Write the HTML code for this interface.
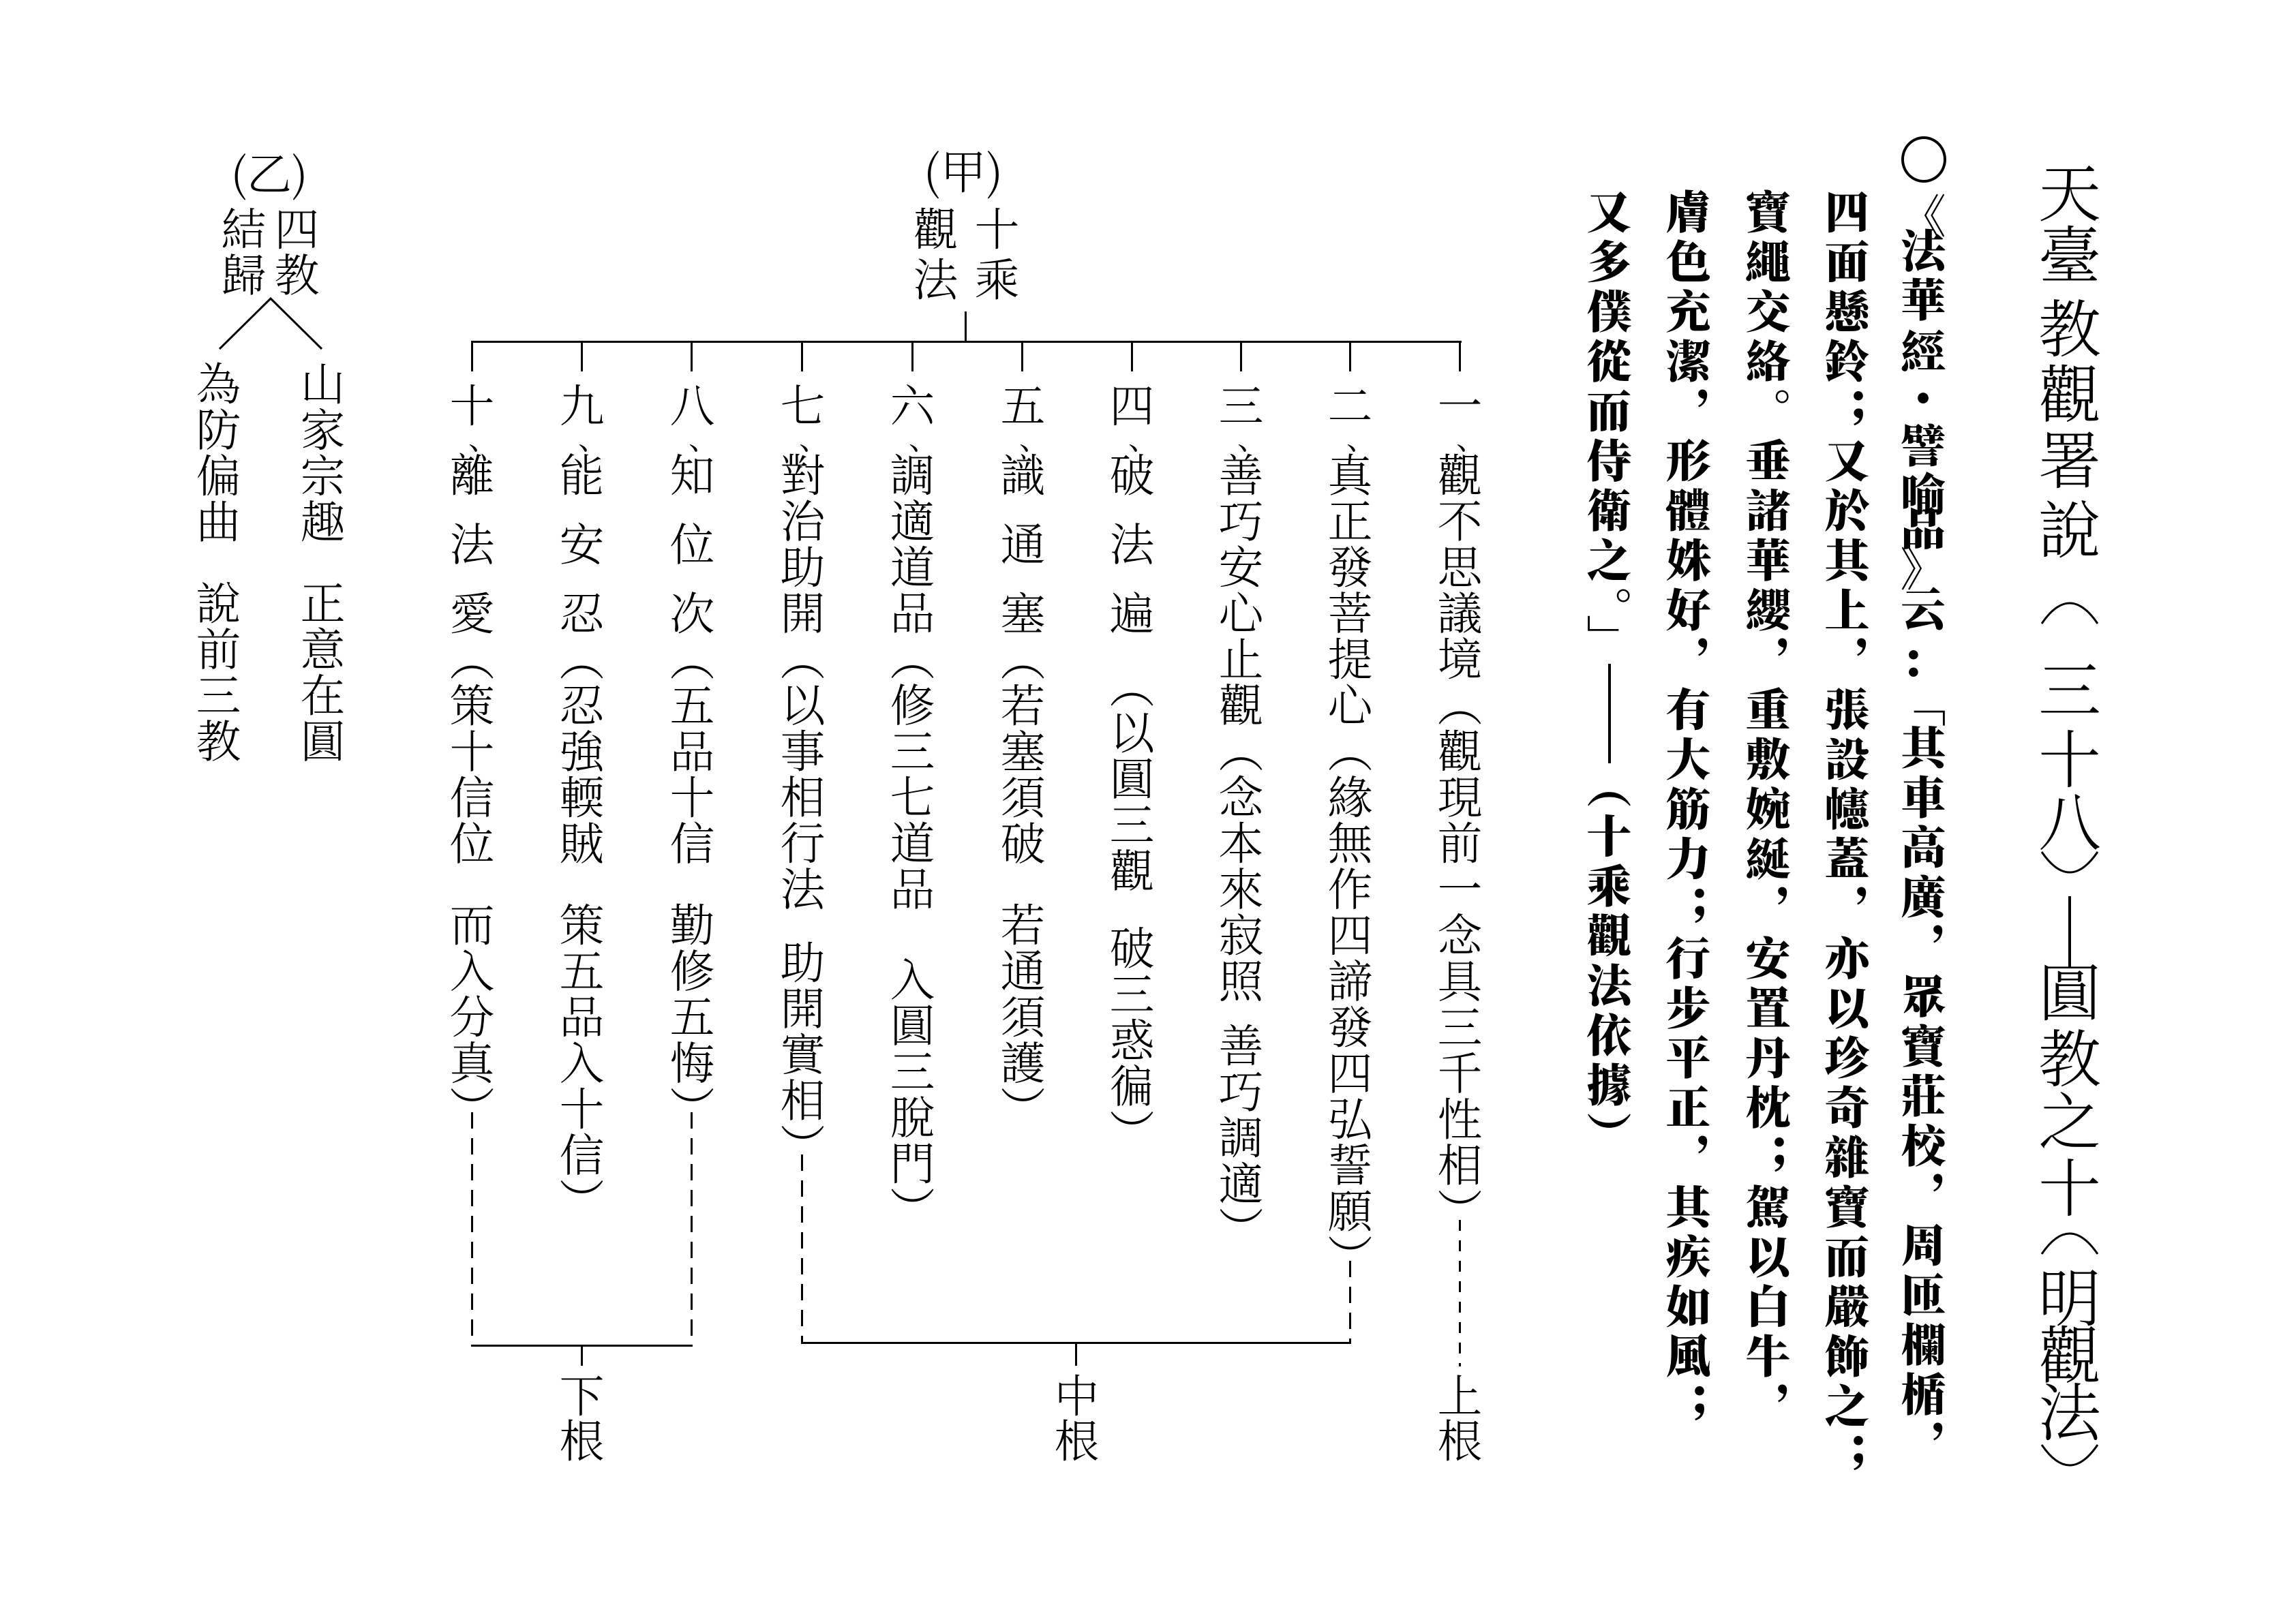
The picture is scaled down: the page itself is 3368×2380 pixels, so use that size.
<!DOCTYPE html>
<html><head><meta charset="utf-8">
<style>
html,body{margin:0;padding:0;background:#fff;}
body{width:3368px;height:2380px;position:relative;overflow:hidden;}
.v{position:absolute;writing-mode:vertical-rl;text-orientation:mixed;white-space:nowrap;color:#000;}
.t{font-family:"Noto Serif CJK SC","Noto Sans CJK TC",serif;font-weight:300;font-size:66px;line-height:68px;width:68px;letter-spacing:1.5px;}
.q{font-family:"Noto Serif CJK SC","Noto Sans CJK TC",serif;font-weight:900;font-size:66px;line-height:70px;width:70px;letter-spacing:7px;}
.s{display:inline-block;width:1px;}
.c{position:absolute;font-family:"Noto Serif CJK SC","Noto Sans CJK TC",serif;font-weight:300;text-align:center;line-height:1;}
.ti{font-size:92px;width:100px;height:92px;}
.qc{font-family:"Noto Serif CJK SC",serif;font-weight:900;font-size:66px;width:70px;height:66px;}
.ln{position:absolute;background:#000;}
.dv{position:absolute;width:3px;background:repeating-linear-gradient(to bottom,#000 0 24px,transparent 24px 38px);}
.dash{display:inline-block;width:68px;background:linear-gradient(to right,transparent 33px,#000 33px,#000 37px,transparent 37px);}
.dm{position:absolute;font-family:"Noto Serif CJK SC",serif;font-size:44px;line-height:1;}
</style></head><body>

<!-- Title -->
<div class="c ti" style="left:2986px;top:232px">天</div>
<div class="c ti" style="left:2986px;top:323px">臺</div>
<div class="c ti" style="left:2986px;top:431px">教</div>
<div class="c ti" style="left:2986px;top:527px">觀</div>
<div class="c ti" style="left:2986px;top:624px">署</div>
<div class="c ti" style="left:2986px;top:726px">說</div>
<div class="c ti" style="left:2986px;top:961px">三</div>
<div class="c ti" style="left:2986px;top:1063px">十</div>
<div class="c ti" style="left:2986px;top:1155px">八</div>
<div class="ln" style="left:3034px;top:1315px;width:4px;height:105px"></div>
<div class="c ti" style="left:2986px;top:1405px">圓</div>
<div class="c ti" style="left:2986px;top:1502px">教</div>
<div class="c ti" style="left:2986px;top:1594px">之</div>
<div class="c ti" style="left:2986px;top:1692px">十</div>
<div class="c ti" style="left:2986px;top:1853px">明</div>
<div class="c ti" style="left:2986px;top:1937px">觀</div>
<div class="c ti" style="left:2986px;top:2021px">法</div>
<svg style="position:absolute;left:2950px;top:0" width="170" height="2380">
<g fill="none" stroke="#000" stroke-width="3">
<path d="M45,915 Q86,855 127,915"/>
<path d="M45,1250 Q86,1310 127,1250"/>
<path d="M45,1840 Q86,1780 127,1840"/>
<path d="M45,2120 Q86,2180 127,2120"/>
</g></svg>

<!-- Quote -->
<div style="position:absolute;left:2789px;top:200px;width:58px;height:60px;border:4px solid #000;border-radius:50%"></div>
<div class="c qc" style="left:2786px;top:280px">《</div>
<div class="c qc" style="left:2786px;top:331px">法</div>
<div class="c qc" style="left:2786px;top:403px">華</div>
<div class="c qc" style="left:2786px;top:479px">經</div>
<div class="c qc" style="left:2786px;top:548px">・</div>
<div class="c qc" style="left:2786px;top:617px">譬</div>
<div class="c qc" style="left:2786px;top:688px">喻</div>
<div class="c qc" style="left:2786px;top:739px">品</div>
<div class="c qc" style="left:2786px;top:798px">》</div>
<div class="c qc" style="left:2786px;top:857px">云</div>
<div class="c qc" style="left:2786px;top:933px">：</div>
<div class="v q" style="left:2786px;top:1000px">「</div>
<div class="v q" style="left:2786px;top:1063px">其車高廣，眾寶莊校，周匝欄楯，</div>
<div class="v q" style="left:2674px;top:277px">四面懸鈴；又於其上，張設幰蓋，亦以珍奇雜寶而嚴飾之；</div>
<div class="v q" style="left:2558px;top:277px">寶繩交絡。垂諸華纓，重敷婉綖，安置丹枕；駕以白牛，</div>
<div class="v q" style="left:2441px;top:277px">膚色充潔，形體姝好，有大筋力；行步平正，其疾如風；</div>
<div class="v q" style="left:2325px;top:277px">又多僕從而侍衛之。」<span class="dash" style="height:146px"></span>（十乘觀法依據）</div>

<!-- Tree (甲) -->
<div class="c" style="left:1313px;top:215px;width:200px;font-size:68px">(甲)</div>
<div class="v t" style="left:1428px;top:302px;letter-spacing:8px">十乘</div>
<div class="v t" style="left:1338px;top:302px;letter-spacing:8px">觀法</div>
<div class="ln" style="left:1415px;top:457px;width:3px;height:45px"></div>
<div class="ln" style="left:691px;top:500px;width:1453px;height:3px"></div>
<div class="ln" style="left:691px;top:500px;width:3px;height:45px"></div>
<div class="ln" style="left:852px;top:500px;width:3px;height:45px"></div>
<div class="ln" style="left:1013px;top:500px;width:3px;height:45px"></div>
<div class="ln" style="left:1175px;top:500px;width:3px;height:45px"></div>
<div class="ln" style="left:1337px;top:500px;width:3px;height:45px"></div>
<div class="ln" style="left:1498px;top:500px;width:3px;height:45px"></div>
<div class="ln" style="left:1659px;top:500px;width:3px;height:45px"></div>
<div class="ln" style="left:1819px;top:500px;width:3px;height:45px"></div>
<div class="ln" style="left:1979px;top:500px;width:3px;height:45px"></div>
<div class="ln" style="left:2140px;top:500px;width:3px;height:45px"></div>

<!-- numbers -->
<div class="v t" style="left:2107px;top:561px">一</div>
<div class="v t" style="left:1946px;top:561px">二</div>
<div class="v t" style="left:1786px;top:561px">三</div>
<div class="v t" style="left:1626px;top:561px">四</div>
<div class="v t" style="left:1466px;top:561px">五</div>
<div class="v t" style="left:1304px;top:561px">六</div>
<div class="v t" style="left:1143px;top:561px">七</div>
<div class="v t" style="left:981px;top:561px">八</div>
<div class="v t" style="left:819px;top:561px">九</div>
<div class="v t" style="left:658px;top:561px">十</div>
<div class="dm" style="left:2136px;top:618px">、</div>
<div class="dm" style="left:1975px;top:618px">、</div>
<div class="dm" style="left:1815px;top:618px">、</div>
<div class="dm" style="left:1655px;top:618px">、</div>
<div class="dm" style="left:1495px;top:618px">、</div>
<div class="dm" style="left:1333px;top:618px">、</div>
<div class="dm" style="left:1172px;top:618px">、</div>
<div class="dm" style="left:1010px;top:618px">、</div>
<div class="dm" style="left:848px;top:618px">、</div>
<div class="dm" style="left:687px;top:618px">、</div>

<!-- bodies -->
<div class="v t" style="left:2107px;top:663px">觀不思議境（觀現前一念具三千性相）</div>
<div class="v t" style="left:1946px;top:663px">真正發菩提心（緣無作四諦發四弘誓願）</div>
<div class="v t" style="left:1786px;top:663px">善巧安心止觀（念本來寂照<span class="s" style="height:27px"></span>善巧調適）</div>
<div class="v t" style="left:1626px;top:663px">破<span class="s" style="height:34px"></span>法<span class="s" style="height:34px"></span>遍<span class="s" style="height:40px"></span>（以圓三觀<span class="s" style="height:46px"></span>破三惑徧）</div>
<div class="v t" style="left:1466px;top:663px">識<span class="s" style="height:34px"></span>通<span class="s" style="height:34px"></span>塞（若塞須破<span class="s" style="height:52px"></span>若通須護）</div>
<div class="v t" style="left:1304px;top:663px">調適道品（修三七道品<span class="s" style="height:65px"></span>入圓三脫門）</div>
<div class="v t" style="left:1143px;top:663px">對治助開（以事相行法<span class="s" style="height:40px"></span>助開實相）</div>
<div class="v t" style="left:981px;top:663px">知<span class="s" style="height:34px"></span>位<span class="s" style="height:34px"></span>次（五品十信<span class="s" style="height:52px"></span>勤修五悔）</div>
<div class="v t" style="left:819px;top:663px">能<span class="s" style="height:34px"></span>安<span class="s" style="height:34px"></span>忍（忍強輭賊<span class="s" style="height:52px"></span>策五品入十信）</div>
<div class="v t" style="left:658px;top:663px">離<span class="s" style="height:34px"></span>法<span class="s" style="height:34px"></span>愛（策十信位<span class="s" style="height:52px"></span>而入分真）</div>

<!-- bottom connectors -->
<div class="dv" style="left:691px;top:1632px;height:343px"></div>
<div class="dv" style="left:1013px;top:1632px;height:343px"></div>
<div class="ln" style="left:691px;top:1973px;width:325px;height:3px"></div>
<div class="ln" style="left:852px;top:1973px;width:3px;height:31px"></div>
<div class="v t" style="left:819px;top:2014px;letter-spacing:0">下根</div>

<div class="dv" style="left:1175px;top:1694px;height:277px"></div>
<div class="dv" style="left:1979px;top:1850px;height:121px"></div>
<div class="ln" style="left:1175px;top:1969px;width:807px;height:3px"></div>
<div class="ln" style="left:1577px;top:1969px;width:3px;height:35px"></div>
<div class="v t" style="left:1545px;top:2014px;letter-spacing:0">中根</div>

<div class="dv" style="left:2140px;top:1790px;height:215px;background:repeating-linear-gradient(to bottom,#000 0 16px,transparent 16px 30px)"></div>
<div class="v t" style="left:2107px;top:2014px;letter-spacing:0">上根</div>

<!-- Tree (乙) -->
<div class="c" style="left:295px;top:218px;width:200px;font-size:66px">(乙)</div>
<div class="v t" style="left:401px;top:302px">四教</div>
<div class="v t" style="left:323px;top:302px">結歸</div>
<svg style="position:absolute;left:0;top:0" width="600" height="600">
<polyline points="322,512 397,438 472,512" fill="none" stroke="#000" stroke-width="3"/>
</svg>
<div class="v t" style="left:439px;top:529px">山家宗趣<span class="s" style="height:52px"></span>正意在圓</div>
<div class="v t" style="left:286px;top:529px">為防偏曲<span class="s" style="height:52px"></span>說前三教</div>

</body></html>
